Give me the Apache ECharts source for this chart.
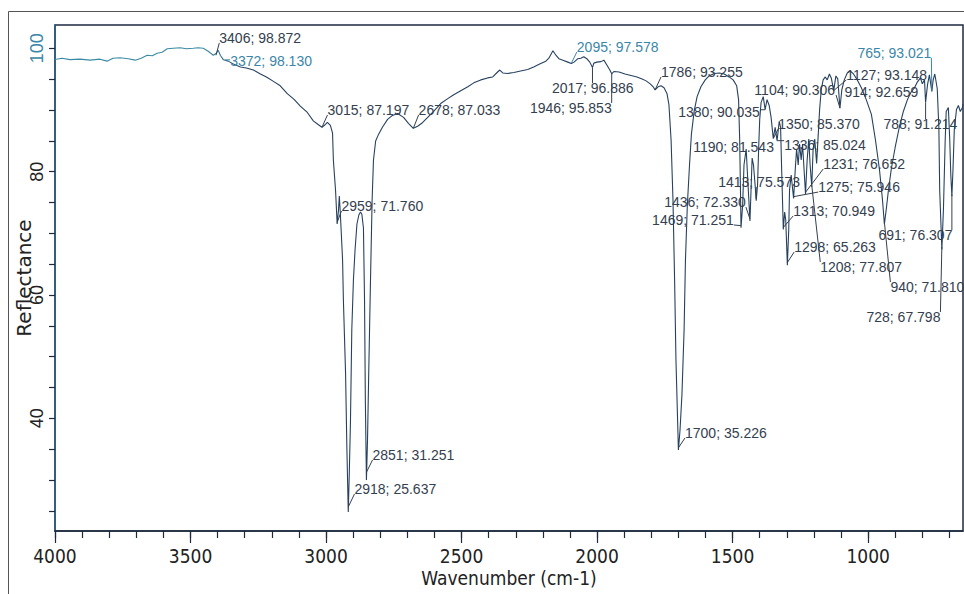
<!DOCTYPE html>
<html><head><meta charset="utf-8">
<script src="https://cdn.jsdelivr.net/npm/echarts@6/dist/echarts.min.js"></script>
<style>html,body{margin:0;padding:0;background:#fff}#c{width:964px;height:594px}</style>
</head><body><div id="c"></div>
<script>
// Spectrum trace (wavenumber in cm-1, reflectance in %)
const wavenumbers = [
4000,3974,3945,3908,3871,3834,3808,3786,3760,3730,3704,3682,3660,3641,3623,3605,3586,3564,3538,3516,3490,3472,3453,3435,3416,3405,3398,3390,3379,3361,3342,3316,3294,3268,3242,3220,3194,3169,3143,3117,3095,3069,3047,3028,3015,3006,2995,2984,2976,2973,2965,2959,2954,2951,2947,2939,2936,2928,2923,2918,2914,2910,2905,2899,2893,2886,2879,2873,2868,2862,2858,2855,2851,2847,2843,2836,2830,2825,2817,2806,2792,2773,2755,2736,2714,2696,2678,2662,2647,2625,2603,2577,2551,2529,2503,2477,2455,2429,2404,2385,2367,2359,2348,2330,2307,2282,2256,2234,2208,2189,2178,2163,2152,2141,2126,2108,2095,2085,2071,2060,2049,2038,2027,2017,2012,2001,1986,1975,1964,1953,1946,1938,1919,1897,1875,1853,1834,1819,1804,1793,1786,1775,1764,1753,1742,1735,1727,1720,1714,1709,1703,1700,1694,1687,1679,1674,1667,1659,1652,1642,1631,1617,1601,1587,1568,1549,1531,1513,1498,1485,1478,1474,1471,1469,1463,1458,1450,1445,1436,1432,1428,1423,1417,1413,1408,1404,1400,1395,1387,1380,1373,1365,1358,1350,1343,1336,1328,1323,1319,1313,1308,1304,1298,1293,1290,1284,1275,1269,1264,1258,1253,1247,1242,1231,1225,1219,1214,1208,1203,1197,1190,1184,1179,1173,1166,1158,1151,1143,1136,1127,1119,1112,1104,1097,1088,1077,1066,1054,1040,1025,1007,988,973,958,947,940,933,925,914,900,885,870,855,841,829,818,807,800,792,788,781,774,765,760,754,745,739,736,728,722,716,712,704,699,695,691,687,682,674,667,660,652,650];
const reflectance = [
98.19,98.4,98.16,98.24,98.08,98.24,97.92,98.4,98.48,98.32,98.08,98.4,98.88,98.8,99.2,99.36,99.92,100.0,100.08,99.92,100.0,100.08,100.0,99.52,98.88,99.2,99.68,98.88,98.16,97.92,97.44,96.96,96.8,96.48,95.84,95.36,94.64,93.92,92.64,91.68,90.64,89.6,88.24,87.6,87.2,87.52,88.0,87.52,86.24,81.89,77.02,71.5,73.78,76.05,72.96,65.67,59.18,47.35,34.86,24.81,31.54,39.24,54.32,62.43,67.29,71.51,72.97,73.45,73.13,70.86,59.18,42.97,30.0,36.48,46.21,62.43,75.4,81.89,84.96,86.08,87.2,88.48,89.12,89.44,88.8,87.84,87.03,87.36,87.84,88.8,89.76,91.04,91.84,92.48,93.12,93.76,94.4,94.88,95.2,95.36,96.16,96.48,96.0,95.92,96.08,96.32,96.56,96.96,97.52,97.92,98.4,99.6,98.88,98.32,98.08,97.76,97.52,97.76,98.32,98.4,98.64,98.32,97.76,96.88,97.6,97.76,97.84,98.08,97.28,96.48,95.86,96.24,96.16,95.84,95.6,95.36,95.04,94.72,94.24,93.76,93.25,93.76,93.92,93.6,92.64,90.88,85.13,75.4,62.43,49.45,39.72,34.86,38.1,43.78,54.32,65.67,74.59,81.08,86.08,89.76,92.16,93.76,94.88,95.52,95.92,96.0,95.84,95.36,94.88,93.92,91.68,85.28,77.02,70.91,74.59,81.08,83.68,79.45,72.0,77.02,82.21,81.08,77.83,75.29,77.83,83.68,88.48,91.2,92.16,90.04,91.68,90.72,88.8,85.38,87.2,85.02,88.16,87.2,80.26,70.61,73.45,72.16,64.84,70.54,77.02,79.45,75.67,80.26,83.68,81.08,84.48,81.89,84.48,76.39,81.89,85.28,81.08,77.56,83.68,85.28,81.34,86.08,90.08,93.28,94.88,95.36,94.88,95.84,95.2,93.15,95.52,95.04,90.3,93.28,94.88,96.0,96.32,95.84,94.88,93.6,91.68,89.28,85.13,80.26,75.4,71.48,73.95,77.02,80.59,84.0,87.2,89.76,91.68,92.96,93.6,94.56,95.2,94.24,94.88,91.22,94.08,95.68,93.02,94.88,95.84,93.44,87.04,77.02,67.4,74.09,84.64,89.76,90.4,85.28,79.45,76.03,80.26,86.88,90.08,90.72,89.76,90.4,91.0];

// Peak annotations (as printed on the chart)
const peakWavenumbers = [3406,3372,3015,2678,2959,2918,2851,2095,2017,1946,1786,1700,1469,1436,1413,1380,1350,1336,1313,1298,1275,1231,1208,1190,1127,1104,940,914,788,765,728,691];
const peakValues = [98.872,98.130,87.197,87.033,71.760,25.637,31.251,97.578,96.886,95.853,93.255,35.226,71.251,72.330,75.573,90.035,85.370,85.024,70.949,65.263,75.946,76.652,77.807,81.543,93.148,90.306,71.810,92.659,91.214,93.021,67.798,76.307];
const tealPeaks = [3372,2095,765];

// Axis tick labels
const xTickLabels = [4000,3500,3000,2500,2000,1500,1000];
const yTickLabels = [40,60,80,100];

// Label placement (pixel offset of text left-middle from the peak point, leader on/off)
const labelOffsets = [
[3.3,-17.3,1],[5,1.2,1],[5.5,-17.3,1],[5.3,-18.3,1],[4.3,-16.5,1],[6.2,-17.9,1],[6.1,-17.3,1],[5.5,-16.2,1],
[-40.6,20.5,1],[-81.8,34.1,1],[5.9,-17.9,1],[6.6,-14.8,1],[-88.9,-5.6,1],[-85.8,-16.9,1],[-38,-16.9,1],[-87,2.3,1],
[4.9,-14.5,1],[7.1,4.3,1],[9.9,-16.5,1],[6.8,-15.5,1],[24.6,-9.6,1],[17.7,-28.3,1],[8.5,81.8,1],[-123.4,-15.1,0],
[12.6,-15.6,1],[-85.6,-18.1,1],[6,64.9,1],[-47,-1.6,0],[-42.2,21.5,1],[-74.4,-38.3,1],[-75.4,70.1,1],[-73.4,40.6,1]];

const DARK = '#34404f', TEAL = '#3b86a8', AXIS = '#1c2a3f';
const NARROW = '"Liberation Sans Narrow","DejaVu Sans Condensed","Liberation Sans",sans-serif';
const XMIN = 650, XMAX = 4000, YMIN = 21.73, YMAX = 103.78;

const minorX = []; for (let w = 4000; w >= 700; w -= 100) minorX.push(w);
const minorY = []; for (let v = 25; v <= 100; v += 5) minorY.push(v);

const chart = echarts.init(document.getElementById('c'), null, {renderer: 'svg'});
const FS = 14;
chart.setOption({
  animation: false,
  backgroundColor: '#fff',
  grid: {left: 55, right: 1, top: 25, bottom: 63, containLabel: false, outerBoundsMode: 'none',
    show: true, borderColor: AXIS, borderWidth: 1.5, backgroundColor: 'transparent'},
  graphic: [{type: 'rect', silent: true, z: -10, shape: {x: 8.5, y: 11.5, width: 1200, height: 1200}, style: {fill: 'none', stroke: '#555', lineWidth: 1}}],
  xAxis: [{
    type: 'value', min: XMIN, max: XMAX, inverse: true, position: 'bottom',
    name: 'Wavenumber (cm-1)', nameLocation: 'middle', nameGap: 37, nameMoveOverlap: false,
    nameTextStyle: {fontFamily: NARROW, fontSize: 19, color: '#222'},
    axisLine: {show: true, lineStyle: {color: AXIS, width: 1.5}},
    axisTick: {show: true, length: 12, customValues: xTickLabels, lineStyle: {color: AXIS, width: 1.2}},
    axisLabel: {customValues: xTickLabels, margin: 15, fontFamily: NARROW, fontSize: 19, color: '#222',
      formatter: function (v) { return String(v); }},
    splitLine: {show: false}
  }, {
    type: 'value', min: XMIN, max: XMAX, inverse: true, position: 'bottom',
    axisLine: {show: false},
    axisTick: {show: true, length: 7, customValues: minorX, lineStyle: {color: AXIS, width: 1.2}},
    axisLabel: {show: false}, splitLine: {show: false}
  }],
  yAxis: {
    type: 'value', min: YMIN, max: YMAX,
    name: 'Reflectance', nameLocation: 'middle', nameGap: 21, nameRotate: 90, nameMoveOverlap: false,
    nameTextStyle: {fontFamily: '"DejaVu Sans",sans-serif', fontSize: 20, color: '#222'},
    axisLine: {show: true, lineStyle: {color: '#2a5f86', width: 1.5}},
    axisTick: {show: true, length: 6, customValues: minorY, lineStyle: {color: AXIS, width: 1.2}},
    axisLabel: {customValues: yTickLabels, rotate: 90, margin: 9, fontFamily: '"Liberation Sans",Arial,sans-serif', fontSize: 18,
      color: function (v) { return Number(v) === 100 ? TEAL : '#222'; }},
    splitLine: {show: false}
  },
  series: [{
    type: 'line', xAxisIndex: 0, yAxisIndex: 0, showSymbol: false, symbol: 'none', z: 5,
    data: wavenumbers.map((w, i) => [w, reflectance[i]]),
    lineStyle: {width: 1.1, color: new echarts.graphic.LinearGradient(0, 0, 1, 0, [
      {offset: 0, color: '#3a8aa5'}, {offset: 0.17, color: '#3a8aa5'}, {offset: 0.21, color: '#26415f'}, {offset: 1, color: '#26415f'}])}
  }, {
    type: 'custom', coordinateSystem: 'cartesian2d', xAxisIndex: 0, yAxisIndex: 0, clip: false, silent: true, z: 10,
    data: peakWavenumbers.map((w, i) => [w, peakValues[i]]),
    renderItem: function (params, api) {
      const i = params.dataIndex;
      const p = api.coord([api.value(0), api.value(1)]);
      const off = labelOffsets[i];
      const text = peakWavenumbers[i] + '; ' + peakValues[i].toFixed(3);
      const color = tealPeaks.indexOf(peakWavenumbers[i]) >= 0 ? TEAL : DARK;
      const tx = p[0] + off[0], ty = p[1] + off[1];
      let W = 0; for (const ch of text) W += /[0-9]/.test(ch) ? 0.556 : 0.278; W *= FS;
      const children = [];
      if (off[2]) {
        const nx = Math.min(Math.max(p[0], tx), tx + W), ny = Math.min(Math.max(p[1], ty - 5), ty + 5);
        if (Math.hypot(nx - p[0], ny - p[1]) > 2) {
          children.push({type: 'line', shape: {x1: p[0], y1: p[1], x2: nx, y2: ny}, style: {stroke: color, lineWidth: 1}});
        }
      }
      children.push({type: 'text', style: {text: text, x: tx, y: ty, fill: color, font: FS + 'px "Liberation Sans", Arial, sans-serif',
        align: 'left', verticalAlign: 'middle', textAlign: 'left', textVerticalAlign: 'middle'}});
      return {type: 'group', children: children};
    }
  }]
});
</script></body></html>
